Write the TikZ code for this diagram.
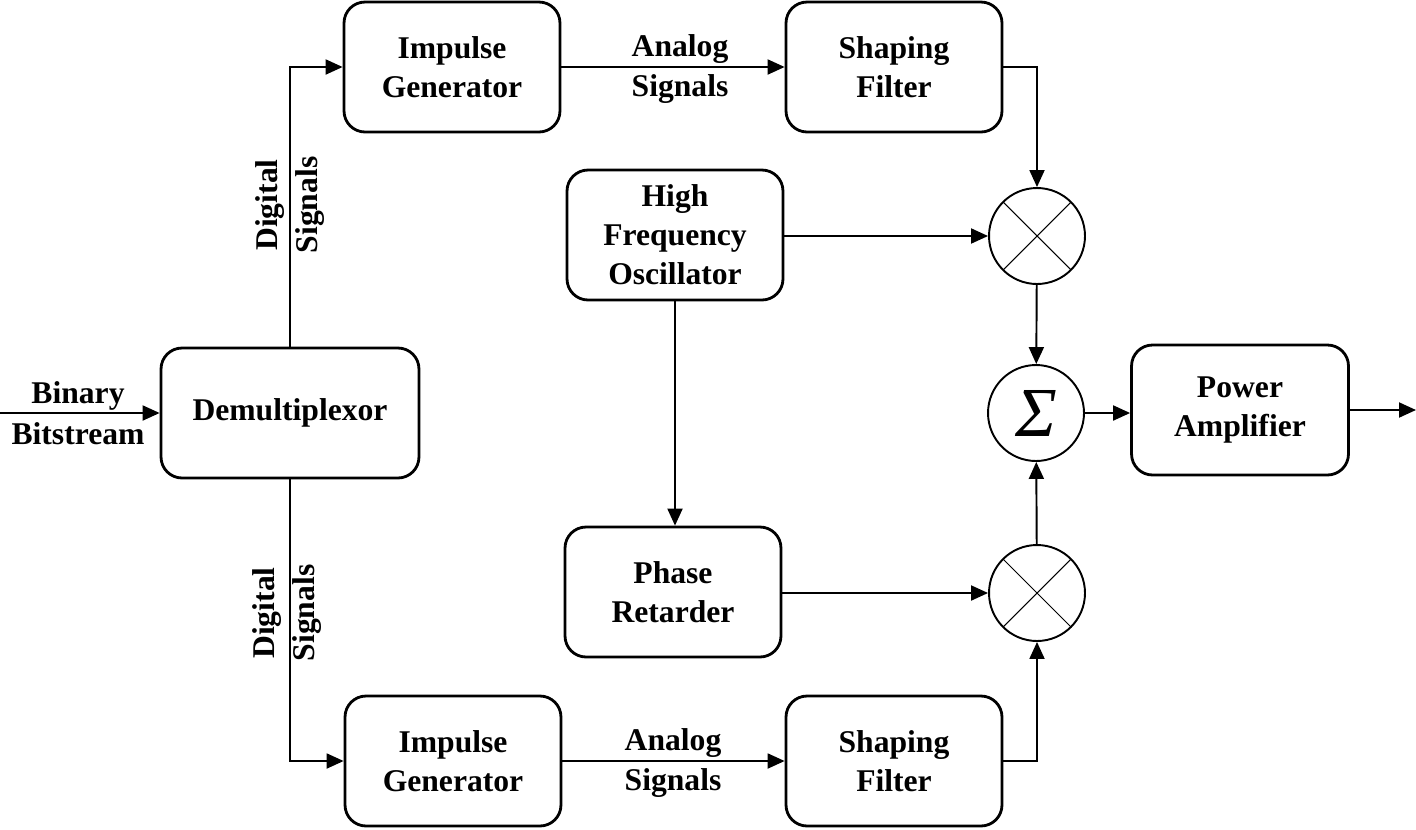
\documentclass[tikz,border=0pt]{standalone}
\usepackage{fontspec}
\setmainfont{Liberation Serif}
\usetikzlibrary{arrows.meta}

\begin{document}
\begin{tikzpicture}[x=0.02cm, y=-0.02cm,
            every node/.style={font=\fontsize{18}{22.2}\selectfont\bfseries},
            block/.style={rectangle, draw, line width=1.6pt, rounded corners=0.42cm,
            align=center, minimum width=4.32cm, minimum height=2.6cm},
            mult/.style={circle, draw, line width=1.1pt, minimum size=1.92cm, inner sep=0pt,
            path picture={\draw[line width=0.6pt] (path picture bounding box.center) +(45:1cm) -- +(225:1cm)
              (path picture bounding box.center) +(135:1cm) -- +(315:1cm);}},
            summ/.style={circle, draw, line width=1.1pt, minimum size=1.92cm, inner sep=0pt},
            lbl/.style={align=center, inner sep=0pt},
            flow/.style={line width=1.1pt, -{Triangle[length=0.34cm,width=0.3cm]}}
        ]
            \useasboundingbox (0,0) rectangle (1416,829);

            \node (demux) [block, minimum width=5.16cm] at (290, 413) {Demultiplexor};
            \node (ig1) [block] at (452, 67) {Impulse\\Generator};
            \node (sf1) [block] at (894, 67) {Shaping\\Filter};
            \node (hfo) [block] at (675, 235) {High\\Frequency\\Oscillator};
            \node (phase) [block] at (673, 592) {Phase\\Retarder};
            \node (ig2) [block] at (453, 761) {Impulse\\Generator};
            \node (sf2) [block] at (894, 761) {Shaping\\Filter};
            \node (pa) [block, minimum width=4.34cm] at (1240, 410) {Power\\Amplifier};
            \node (mul1) [mult] at (1037, 236) {};
            \node (mul2) [mult] at (1037, 593) {};
            \node (sum) [summ] at (1036, 413) {\fontsize{40}{40}\selectfont\mdseries\itshape Σ};
            \coordinate (in) at (0, 413);
            \coordinate (out) at (1416, 410);

            % signal labels
            \node [lbl] at (78, 413) {Binary\\[1pt]Bitstream};
            \node [lbl] at (680, 69) {Analog\\[1pt]Signals};
            \node [lbl] at (673, 763) {Analog\\[1pt]Signals};
            \node [lbl, rotate=90] at (290, 205) {Digital\\[1pt]Signals};
            \node [lbl, rotate=90] at (287, 613) {Digital\\[1pt]Signals};

            \draw [flow] (in) -- (demux);
            \draw [flow] (demux.north) |- (ig1.west);
            \draw [flow] (demux.south) |- (ig2.west);
            \draw [flow] (ig1) -- (sf1);
            \draw [flow] (ig2) -- (sf2);
            \draw [flow] (sf1.east) -| (mul1.north);
            \draw [flow] (sf2.east) -| (mul2.south);
            \draw [flow] (hfo.east |- mul1) -- (mul1.west);
            \draw [flow] (hfo.south) -- (hfo.south |- phase.north);
            \draw [flow] (phase.east |- mul2) -- (mul2.west);
            \draw [flow] (mul1) -- (sum);
            \draw [flow] (mul2) -- (sum);
            \draw [flow] (sum.east) -- (pa.west |- sum);
            \draw [flow] (pa) -- (out);
        \end{tikzpicture}
\end{document}
